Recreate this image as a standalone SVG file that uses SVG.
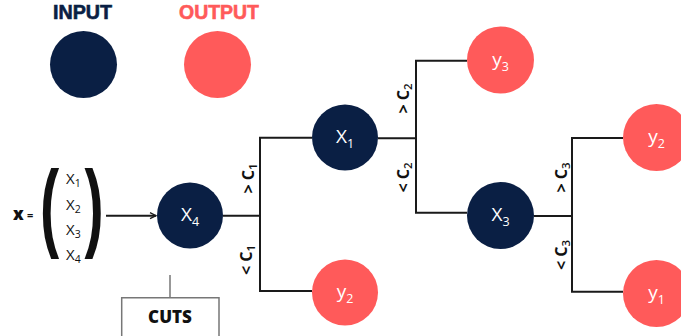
<svg xmlns="http://www.w3.org/2000/svg" width="681" height="336" viewBox="0 0 681 336">
  <style>
    .in { fill: #0a1f44; }
    .out { fill: #ff5a5a; }
    .head { font-family: "Liberation Sans", Arial, sans-serif; font-weight: 700; font-size: 19.5px; }
    .lbl { font-family: "Open Sans", "Liberation Sans", sans-serif; font-size: 19px; fill: #ffffff; text-anchor: middle; }
    .vec { font-family: "Open Sans", "Liberation Sans", sans-serif; font-size: 15px; fill: #111111; }
    .cond { font-family: "Open Sans", "Liberation Sans", sans-serif; font-weight: 700; font-size: 16px; fill: #111111; text-anchor: middle; }
    .edge { stroke: #1a1a1a; stroke-width: 2; fill: none; }
    .cut { stroke: #777777; stroke-width: 1.5; fill: none; }
  </style>
  <defs>
    <marker id="arrow" markerWidth="8" markerHeight="8" refX="7" refY="4" orient="auto" markerUnits="userSpaceOnUse">
      <path d="M1,1 L7,4 L1,7" fill="none" stroke="#1a1a1a" stroke-width="1.3"/>
    </marker>
  </defs>

  <!-- legend -->
  <g id="legend-input">
    <text class="head in" x="53" y="18.5" textLength="59" lengthAdjust="spacingAndGlyphs" stroke="#0a1f44" stroke-width="0.6">INPUT</text>
    <circle class="in" cx="83.5" cy="64.5" r="33.5"/>
  </g>
  <g id="legend-output">
    <text class="head out" x="179" y="18.5" textLength="80" lengthAdjust="spacingAndGlyphs" stroke="#ff5a5a" stroke-width="0.6">OUTPUT</text>
    <circle class="out" cx="217.5" cy="64.5" r="33.5"/>
  </g>

  <!-- input vector -->
  <g id="vector">
    <text x="13" y="220" font-family="'Open Sans', 'Liberation Sans', sans-serif" font-weight="800" font-size="17" fill="#111">x</text>
    <text x="27" y="219" font-family="'Open Sans', 'Liberation Sans', sans-serif" font-weight="700" font-size="11" fill="#111">=</text>
    <text transform="translate(40,239) scale(0.58,1)" font-family="'Liberation Sans', sans-serif" font-weight="700" font-size="99" fill="#111">(</text>
    <text transform="translate(84.5,239) scale(0.58,1)" font-family="'Liberation Sans', sans-serif" font-weight="700" font-size="99" fill="#111">)</text>
    <text class="vec" x="66" y="184">X<tspan font-size="10.5" dy="3">1</tspan></text>
    <text class="vec" x="66" y="210">X<tspan font-size="10.5" dy="3">2</tspan></text>
    <text class="vec" x="66" y="235">X<tspan font-size="10.5" dy="3">3</tspan></text>
    <text class="vec" x="66" y="260">X<tspan font-size="10.5" dy="3">4</tspan></text>
  </g>

  <!-- connectors -->
  <g id="connectors">
    <line class="edge" x1="106" y1="215.7" x2="156" y2="215.7" stroke-width="1.5" marker-end="url(#arrow)"/>
    <path class="edge" d="M223,215.7 H260 M312,137.7 H260 V291 H312"/>
    <path class="edge" d="M378,138.3 H416 M467,60.7 H416 V212.7 H467"/>
    <path class="edge" d="M534,216 H572 M623,138 H572 V291.7 H623"/>
  </g>

  <!-- split labels -->
  <g id="conditions">
    <text class="cond" transform="translate(254,178.5) rotate(-90)">&gt; C<tspan font-size="11.5" font-weight="600" dy="3">1</tspan></text>
    <text class="cond" transform="translate(252,260) rotate(-90)">&lt; C<tspan font-size="11.5" font-weight="600" dy="3">1</tspan></text>
    <text class="cond" transform="translate(409,98.5) rotate(-90)">&gt; C<tspan font-size="11.5" font-weight="600" dy="3">2</tspan></text>
    <text class="cond" transform="translate(409,177.5) rotate(-90)">&lt; C<tspan font-size="11.5" font-weight="600" dy="3">2</tspan></text>
    <text class="cond" transform="translate(567,177.5) rotate(-90)">&gt; C<tspan font-size="11.5" font-weight="600" dy="3">3</tspan></text>
    <text class="cond" transform="translate(567,255) rotate(-90)">&lt; C<tspan font-size="11.5" font-weight="600" dy="3">3</tspan></text>
  </g>

  <!-- nodes -->
  <g id="node-x4">
    <circle class="in" cx="190" cy="215.5" r="33"/>
    <text class="lbl" x="190" y="221">X<tspan font-size="12.5" dy="5">4</tspan></text>
  </g>
  <g id="node-x1">
    <circle class="in" cx="345" cy="137.5" r="33"/>
    <text class="lbl" x="345" y="143">X<tspan font-size="12.5" dy="5">1</tspan></text>
  </g>
  <g id="node-y2-left">
    <circle class="out" cx="345" cy="292.5" r="33"/>
    <text class="lbl" x="345" y="298">y<tspan font-size="12.5" dy="5">2</tspan></text>
  </g>
  <g id="node-y3">
    <circle class="out" cx="500.5" cy="60" r="33.5"/>
    <text class="lbl" x="500.5" y="65.5">y<tspan font-size="12.5" dy="5">3</tspan></text>
  </g>
  <g id="node-x3">
    <circle class="in" cx="500.5" cy="215.5" r="33.5"/>
    <text class="lbl" x="500.5" y="221">X<tspan font-size="12.5" dy="5">3</tspan></text>
  </g>
  <g id="node-y2-right">
    <circle class="out" cx="656.5" cy="137.5" r="33.5"/>
    <text class="lbl" x="656.5" y="143">y<tspan font-size="12.5" dy="5">2</tspan></text>
  </g>
  <g id="node-y1">
    <circle class="out" cx="656.5" cy="293.5" r="33.5"/>
    <text class="lbl" x="656.5" y="299">y<tspan font-size="12.5" dy="5">1</tspan></text>
  </g>

  <!-- cuts bracket -->
  <g id="cuts">
    <path class="cut" d="M170,275 V297.7 M121.7,336 V297.7 H219 V336"/>
    <text x="170" y="323" font-family="'Open Sans', 'Liberation Sans', sans-serif" font-weight="800" font-size="17" fill="#111" text-anchor="middle">CUTS</text>
  </g>
</svg>
